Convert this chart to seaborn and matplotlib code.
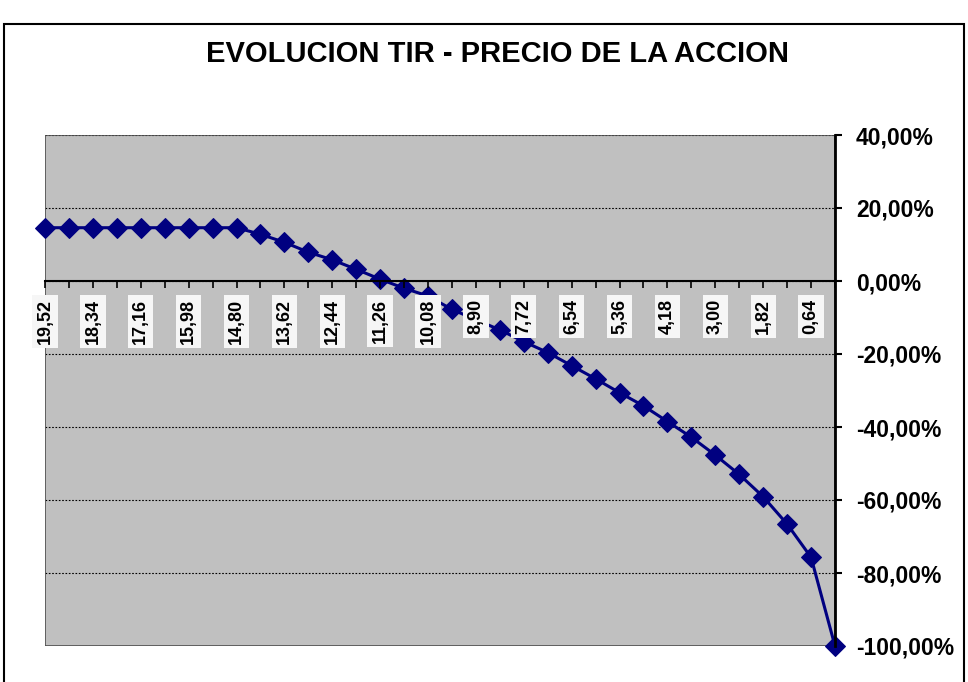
import seaborn as sns
import matplotlib
matplotlib.use("Agg")
import matplotlib.pyplot as plt
from matplotlib.patches import Rectangle
from matplotlib.ticker import FixedLocator, FuncFormatter

# precio de la accion (eje x, de mayor a menor)
precios = [19.52, 18.93, 18.34, 17.75, 17.16, 16.57, 15.98, 15.39, 14.80, 14.21,
           13.62, 13.03, 12.44, 11.85, 11.26, 10.67, 10.08, 9.49, 8.90, 8.31,
           7.72, 7.13, 6.54, 5.95, 5.36, 4.77, 4.18, 3.59, 3.00, 2.41,
           1.82, 1.23, 0.64, 0.05]

# TIR en %
tir = [14.6, 14.6, 14.6, 14.6, 14.6, 14.6, 14.6, 14.6, 14.6, 12.8,
       10.6, 7.9, 5.8, 3.2, 0.5, -2.0, -4.1, -7.8, -10.6, -13.4,
       -16.6, -19.6, -23.2, -26.8, -30.6, -34.2, -38.5, -42.8, -47.7, -53.0,
       -59.1, -66.6, -75.7, -100.0]

y_ticks = [40, 20, 0, -20, -40, -60, -80, -100]
titulo = "EVOLUCION TIR - PRECIO DE LA ACCION"

sns.set_style("white")
plt.rcParams['font.family'] = ['Liberation Sans', 'DejaVu Sans']
plt.rcParams['font.weight'] = 'bold'
plt.rcParams['text.color'] = 'black'
plt.rcParams['xtick.color'] = 'black'
plt.rcParams['ytick.color'] = 'black'

fig = plt.figure(figsize=(9.68, 6.82), dpi=100)
ax = fig.add_axes([45 / 968, 1 - 646 / 682, 790 / 968, 511 / 682])
ax.set_facecolor('#c0c0c0')

pos = list(range(len(precios)))
sns.lineplot(x=pos, y=tir, ax=ax, color='#000080', linewidth=2.2,
             marker='D', markersize=10, markeredgecolor='#000080', zorder=2,
             clip_on=False)

ax.set_xlim(0, len(precios) - 1)
ax.set_ylim(-100, 40)

# borde del area de trazado
ax.add_patch(Rectangle((0, 0), 1, 1, transform=ax.transAxes, fill=False,
                       edgecolor='#505050', linewidth=1.2, zorder=1.5))

# eje x cruzando en 0
ax.spines['bottom'].set_position(('data', 0))
ax.spines['bottom'].set_color('black')
ax.spines['bottom'].set_linewidth(1.5)
for s in ['top', 'left']:
    ax.spines[s].set_visible(False)
ax.spines['right'].set_color('black')
ax.spines['right'].set_linewidth(2)

ax.xaxis.set_major_locator(FixedLocator(pos[::2]))
ax.xaxis.set_minor_locator(FixedLocator(pos[1::2]))
ax.set_xticklabels([f"{p:.2f}".replace('.', ',') for p in precios[::2]],
                   rotation=90, fontsize=13, fontweight='bold', va='top',
                   bbox=dict(facecolor='#f6f6f6', edgecolor='none', pad=3))
ax.tick_params(axis='x', which='both', direction='out', length=5, width=1.2,
               color='black', pad=8, bottom=True)
ax.xaxis.set_zorder(3)

ax.yaxis.tick_right()
ax.set_yticks(y_ticks)
ax.yaxis.set_major_formatter(FuncFormatter(lambda v, _: f"{v:.2f}%".replace('.', ',')))
ax.tick_params(axis='y', direction='out', length=5, width=1.5, color='black',
               labelsize=16.5, pad=10, right=True)
for lab in ax.get_yticklabels():
    lab.set_fontweight('bold')
ax.yaxis.grid(True, color='black', linestyle=(0, (1.5, 1.5)), linewidth=0.8)
ax.yaxis.set_zorder(1)
ax.set_xlabel("")
ax.set_ylabel("")

fig.text(497 / 968, 1 - 54 / 682, titulo, ha='center', va='center',
         fontsize=21, fontweight='bold')

fig.patches.append(Rectangle((4 / 968, -0.02), 960 / 968, 1.002 - 12 / 682,
                             transform=fig.transFigure, fill=False,
                             edgecolor='black', linewidth=1.5))

plt.savefig("out.png", dpi=100)
